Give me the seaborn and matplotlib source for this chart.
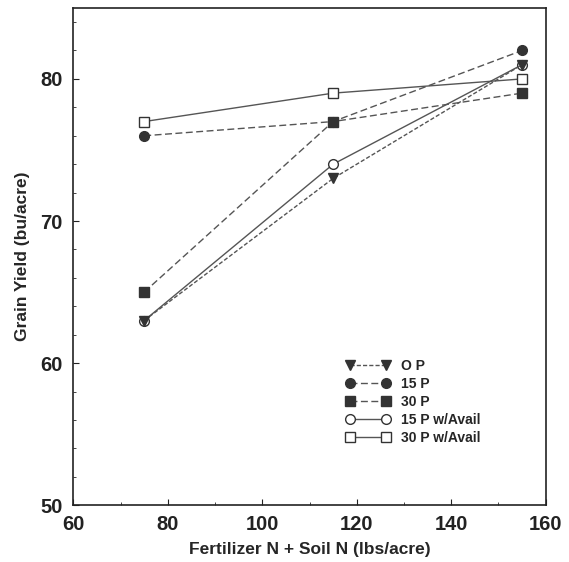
import numpy as np
import pandas as pd
import seaborn as sns
import matplotlib.pyplot as plt
from matplotlib.ticker import MultipleLocator

# data
nitrogen = [75, 115, 155]
series_names = ["O P", "15 P", "30 P", "15 P w/Avail", "30 P w/Avail"]
yield_0p = [63, 73, 81]
yield_15p = [76, 77, 82]
yield_30p = [65, 77, 79]
yield_15p_avail = [63, 74, 81]
yield_30p_avail = [77, 79, 80]

all_yields = [yield_0p, yield_15p, yield_30p, yield_15p_avail, yield_30p_avail]
df = pd.DataFrame({
    "N": nitrogen * len(series_names),
    "yield": np.concatenate(all_yields),
    "series": np.repeat(series_names, len(nitrogen)),
})

sns.set_theme(style="ticks")
plt.rcParams["font.family"] = ["Liberation Sans", "DejaVu Sans"]
plt.rcParams["font.weight"] = "bold"

fig = plt.figure(figsize=(5.69, 5.62), dpi=100)
ax = fig.add_axes([0.129, 0.101, 0.830, 0.885])

dark = "#333333"
line_col = "#555555"
# marker, filled?, linestyle, zorder (filled markers sit on top)
styles = {
    "O P": ("v", True, (0, (3, 1.5)), 5),
    "15 P": ("o", True, (0, (5, 2.5)), 4),
    "30 P": ("s", True, (0, (5, 2.5)), 4),
    "15 P w/Avail": ("o", False, "-", 2),
    "30 P w/Avail": ("s", False, "-", 3),
}

for name in series_names:
    mk, filled, ls, z = styles[name]
    sub = df[df["series"] == name]
    sns.lineplot(data=sub, x="N", y="yield", ax=ax, label=name,
                 color=line_col, linestyle=ls, linewidth=1.0, zorder=z,
                 marker=mk, markersize=7,
                 markerfacecolor=dark if filled else "white",
                 markeredgecolor=dark, markeredgewidth=1.0)

ax.set_xlim(60, 160)
ax.set_ylim(50, 85)
ax.set_xticks([60, 80, 100, 120, 140, 160])
ax.set_yticks([50, 60, 70, 80])
ax.xaxis.set_minor_locator(MultipleLocator(10))
ax.yaxis.set_minor_locator(MultipleLocator(2))
ax.tick_params(which="major", direction="in", length=4, width=0.8,
               labelsize=14.5, colors="#222222")
ax.tick_params(axis="x", which="major", pad=7)
ax.tick_params(axis="y", which="major", pad=8)
ax.tick_params(which="minor", direction="in", length=2, width=0.6)
for lab in ax.get_xticklabels() + ax.get_yticklabels():
    lab.set_fontweight("bold")

for sp in ax.spines.values():
    sp.set_linewidth(1.2)
    sp.set_color("#222222")

ax.set_xlabel("Fertilizer N + Soil N (lbs/acre)", fontsize=12.5,
              fontweight="bold", labelpad=6)
ax.set_ylabel("Grain Yield (bu/acre)", fontsize=12.5, fontweight="bold",
              labelpad=7)

leg = ax.legend(loc="upper left", bbox_to_anchor=(0.55, 0.32), frameon=False,
                numpoints=2, handlelength=3.2, labelspacing=0.3,
                handletextpad=0.8, prop={"weight": "bold", "size": 10})

fig.savefig("out.png", dpi=100)
